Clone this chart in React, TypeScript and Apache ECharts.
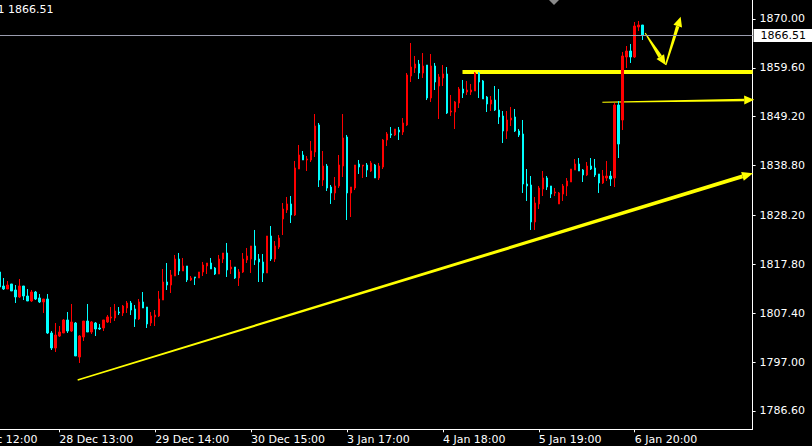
import React, { useEffect, useRef } from "react";
import * as echarts from "echarts";

// ---------- data ----------
// bar slots on the category axis (H1 bars), index 0 = first full candle
const firstSlot = -10;
const lastSlot = 187;
const firstCandle = -1;

// time labels, one every 24 bars starting at slot -10
const timeLabels = [
  "27 Dec 12:00",
  "28 Dec 13:00",
  "29 Dec 14:00",
  "30 Dec 15:00",
  "3 Jan 17:00",
  "4 Jan 18:00",
  "5 Jan 19:00",
  "6 Jan 20:00",
];
const labelStart = -10;
const labelStep = 24;

// price axis tick labels
const priceTicks = [1870.0, 1859.6, 1849.2, 1838.8, 1828.2, 1817.8, 1807.4, 1797.0, 1786.6];
const priceMin = 1782.7;
const priceMax = 1874.04;
const lastPrice = 1866.51;

// candles: [open, close, low, high]
const candles: number[][] = [
  [1816.17, 1812.98, 1812.77, 1816.17],
  [1813.19, 1812.55, 1812.34, 1814.89],
  [1812.55, 1813.4, 1812.55, 1814.25],
  [1813.62, 1812.13, 1812.13, 1813.62],
  [1812.34, 1810.85, 1809.57, 1813.4],
  [1810.85, 1813.19, 1810.64, 1814.68],
  [1813.19, 1811.06, 1810.21, 1813.19],
  [1811.06, 1810.0, 1810.0, 1812.55],
  [1810.0, 1811.91, 1809.79, 1812.34],
  [1811.91, 1810.42, 1810.21, 1812.13],
  [1810.64, 1809.79, 1809.57, 1811.49],
  [1809.79, 1810.42, 1807.45, 1810.42],
  [1810.42, 1803.19, 1802.98, 1811.49],
  [1803.19, 1800.0, 1799.57, 1803.61],
  [1800.0, 1802.76, 1799.15, 1805.32],
  [1802.55, 1803.4, 1802.34, 1804.68],
  [1803.19, 1805.96, 1803.19, 1806.17],
  [1805.96, 1803.61, 1803.19, 1807.66],
  [1803.61, 1805.53, 1803.4, 1809.36],
  [1805.32, 1798.3, 1798.3, 1805.53],
  [1798.08, 1802.55, 1796.81, 1802.76],
  [1802.34, 1805.74, 1801.49, 1805.74],
  [1805.74, 1803.4, 1803.4, 1809.36],
  [1803.4, 1805.53, 1802.98, 1805.74],
  [1805.32, 1804.04, 1802.55, 1805.53],
  [1804.25, 1804.04, 1803.83, 1805.11],
  [1804.25, 1805.96, 1803.61, 1805.96],
  [1805.53, 1806.6, 1805.32, 1807.02],
  [1806.38, 1806.6, 1805.32, 1808.72],
  [1806.38, 1807.87, 1805.74, 1809.36],
  [1807.66, 1807.45, 1807.02, 1808.72],
  [1807.45, 1808.93, 1806.81, 1809.15],
  [1808.51, 1809.57, 1807.45, 1810.0],
  [1809.57, 1808.08, 1807.02, 1810.0],
  [1808.3, 1806.17, 1804.47, 1809.15],
  [1806.17, 1809.79, 1805.96, 1810.42],
  [1809.79, 1808.51, 1808.51, 1811.91],
  [1808.72, 1805.11, 1804.25, 1808.72],
  [1805.32, 1806.81, 1804.68, 1807.66],
  [1806.6, 1807.02, 1804.68, 1808.08],
  [1806.81, 1810.42, 1806.6, 1812.13],
  [1810.21, 1814.04, 1810.21, 1816.81],
  [1814.04, 1813.4, 1812.34, 1818.08],
  [1813.4, 1815.53, 1811.7, 1816.6],
  [1815.32, 1818.93, 1815.32, 1819.79],
  [1818.93, 1816.38, 1815.53, 1820.21],
  [1816.38, 1817.45, 1816.38, 1819.15],
  [1817.45, 1814.47, 1814.04, 1817.45],
  [1814.47, 1814.89, 1814.25, 1815.32],
  [1815.11, 1814.89, 1813.4, 1815.11],
  [1814.89, 1816.17, 1814.89, 1816.17],
  [1816.17, 1817.66, 1815.32, 1818.3],
  [1817.45, 1818.08, 1815.74, 1818.08],
  [1818.08, 1816.81, 1816.81, 1819.15],
  [1817.02, 1815.74, 1815.53, 1817.23],
  [1815.74, 1818.93, 1815.74, 1819.79],
  [1818.93, 1820.21, 1818.08, 1820.21],
  [1820.21, 1816.6, 1815.11, 1822.34],
  [1816.81, 1817.23, 1815.74, 1818.72],
  [1817.23, 1814.89, 1814.68, 1817.23],
  [1814.89, 1816.17, 1813.19, 1816.81],
  [1816.17, 1818.93, 1815.96, 1820.21],
  [1818.72, 1819.57, 1818.08, 1821.28],
  [1818.93, 1821.7, 1815.96, 1821.7],
  [1821.7, 1818.72, 1817.66, 1825.11],
  [1818.93, 1818.3, 1814.04, 1820.0],
  [1818.3, 1815.96, 1814.04, 1820.0],
  [1815.96, 1823.83, 1815.96, 1823.83],
  [1823.83, 1818.93, 1818.51, 1825.95],
  [1818.93, 1821.7, 1818.3, 1822.76],
  [1821.49, 1823.4, 1821.06, 1824.04],
  [1827.45, 1829.57, 1824.04, 1830.85],
  [1829.36, 1830.64, 1828.72, 1832.13],
  [1830.64, 1828.3, 1826.59, 1832.34],
  [1828.3, 1838.3, 1828.08, 1839.79],
  [1838.08, 1841.06, 1838.08, 1843.19],
  [1841.06, 1840.0, 1840.0, 1841.91],
  [1840.0, 1840.21, 1837.66, 1840.85],
  [1840.0, 1841.91, 1839.57, 1844.04],
  [1841.7, 1847.23, 1840.64, 1849.78],
  [1847.45, 1835.74, 1834.25, 1847.87],
  [1835.74, 1838.72, 1834.47, 1841.91],
  [1838.72, 1834.04, 1833.4, 1839.15],
  [1834.25, 1832.98, 1830.64, 1834.68],
  [1832.98, 1834.47, 1831.49, 1836.38],
  [1834.47, 1838.93, 1834.04, 1841.06],
  [1838.72, 1844.68, 1836.38, 1849.78],
  [1844.89, 1832.98, 1827.23, 1845.32],
  [1832.98, 1834.25, 1827.87, 1834.25],
  [1834.04, 1838.93, 1833.61, 1838.93],
  [1839.15, 1838.51, 1837.02, 1840.0],
  [1838.72, 1838.93, 1836.17, 1838.93],
  [1838.93, 1837.87, 1836.38, 1839.36],
  [1837.66, 1839.36, 1837.45, 1839.79],
  [1838.93, 1836.17, 1836.17, 1839.15],
  [1836.17, 1838.72, 1835.74, 1839.36],
  [1838.51, 1844.25, 1838.08, 1844.47],
  [1844.25, 1845.53, 1842.98, 1845.95],
  [1845.53, 1845.32, 1844.68, 1847.02],
  [1845.32, 1846.59, 1845.1, 1846.59],
  [1846.38, 1845.95, 1844.25, 1847.02],
  [1845.95, 1847.87, 1845.32, 1848.93],
  [1847.45, 1858.08, 1847.23, 1858.51],
  [1857.87, 1859.78, 1856.59, 1864.89],
  [1859.57, 1860.42, 1858.51, 1862.13],
  [1860.42, 1858.51, 1857.23, 1861.28],
  [1858.51, 1860.0, 1857.45, 1862.76],
  [1860.21, 1853.19, 1852.76, 1860.21],
  [1853.19, 1860.0, 1852.34, 1862.55],
  [1860.0, 1856.59, 1854.89, 1860.64],
  [1855.74, 1857.66, 1848.72, 1858.3],
  [1857.45, 1858.3, 1855.74, 1860.21],
  [1858.3, 1850.0, 1849.78, 1859.78],
  [1850.21, 1850.42, 1849.36, 1853.83],
  [1850.21, 1852.34, 1846.59, 1852.55],
  [1852.13, 1855.1, 1851.06, 1855.53],
  [1855.1, 1854.25, 1853.19, 1857.02],
  [1854.47, 1854.89, 1853.83, 1856.81],
  [1854.47, 1854.89, 1853.83, 1856.17],
  [1854.68, 1858.51, 1854.68, 1858.72],
  [1858.51, 1856.59, 1853.19, 1858.72],
  [1856.81, 1852.98, 1852.98, 1857.02],
  [1853.4, 1851.91, 1850.21, 1853.61],
  [1851.91, 1852.76, 1850.42, 1853.61],
  [1852.76, 1850.64, 1850.42, 1855.74],
  [1850.64, 1849.15, 1847.66, 1855.1],
  [1849.36, 1846.17, 1843.61, 1850.42],
  [1846.17, 1848.51, 1844.47, 1850.42],
  [1848.51, 1848.93, 1847.23, 1851.28],
  [1849.15, 1846.17, 1845.95, 1850.85],
  [1846.17, 1845.32, 1844.89, 1846.59],
  [1845.53, 1834.89, 1832.98, 1848.51],
  [1834.89, 1834.47, 1831.28, 1838.08],
  [1834.68, 1826.81, 1825.11, 1836.59],
  [1826.81, 1830.85, 1825.11, 1832.13],
  [1830.64, 1834.04, 1829.57, 1834.47],
  [1833.83, 1836.17, 1832.34, 1837.66],
  [1836.17, 1834.25, 1833.61, 1836.59],
  [1834.47, 1832.76, 1831.91, 1834.47],
  [1832.98, 1833.19, 1832.34, 1834.04],
  [1830.64, 1832.98, 1830.64, 1833.19],
  [1832.76, 1834.47, 1831.28, 1834.89],
  [1834.47, 1835.53, 1832.34, 1836.17],
  [1835.32, 1838.08, 1835.32, 1838.08],
  [1837.87, 1839.15, 1837.87, 1840.21],
  [1839.15, 1837.66, 1837.66, 1840.42],
  [1837.87, 1836.81, 1835.32, 1838.08],
  [1836.81, 1838.72, 1836.59, 1839.57],
  [1838.72, 1838.08, 1837.87, 1840.42],
  [1838.3, 1836.81, 1836.38, 1840.21],
  [1837.02, 1835.11, 1832.98, 1837.02],
  [1835.11, 1836.59, 1834.89, 1837.87],
  [1836.17, 1836.59, 1835.53, 1839.79],
  [1836.59, 1835.96, 1834.47, 1837.66],
  [1836.17, 1851.7, 1834.25, 1852.13],
  [1851.7, 1843.4, 1840.42, 1852.55],
  [1848.51, 1862.13, 1846.38, 1862.98],
  [1861.91, 1863.19, 1859.57, 1864.25],
  [1863.19, 1861.91, 1860.64, 1864.68],
  [1861.91, 1868.51, 1861.7, 1869.36],
  [1868.3, 1868.72, 1867.44, 1869.57],
  [1868.72, 1866.51, 1865.53, 1868.72],
];

// chart drawings, in (bar index, price)
const trendLine = [[18.6, 1793.2], [187.6, 1837.2]];
const resistanceLevel = { fromBar: 114.9, price: 1858.72 };
const pointerArrow = [[149.9, 1852.3], [187.9, 1852.8]];
const zigzag = [[160.6, 1867.0], [165.75, 1860.2], [169.5, 1870.5]];

// ---------- styles ----------
const FONT = "DejaVu Sans";
const BULL = "#ff0000";
const BEAR = "#00ffff";
const YELLOW = "#ffff00";
const TEXT = "#ffffff";

const slots: number[] = [];
for (let i = firstSlot; i <= lastSlot; i++) slots.push(i);
const lastCandle = firstCandle + candles.length - 1;
const isLabelled = (bar: number) =>
  bar <= lastCandle && (bar - labelStart) % labelStep === 0 && (bar - labelStart) / labelStep < timeLabels.length;

function arrow(a: number[], b: number[], w0: number, w1: number, headLen: number, headHalf: number) {
  const dx = b[0] - a[0];
  const dy = b[1] - a[1];
  const len = Math.hypot(dx, dy) || 1;
  const ux = dx / len, uy = dy / len;
  const nx = -uy, ny = ux;
  const base = [b[0] - ux * headLen, b[1] - uy * headLen];
  return [
    {
      type: "polygon",
      z: 1,
      silent: true,
      shape: {
        points: [
          [a[0] + (nx * w0) / 2, a[1] + (ny * w0) / 2],
          [base[0] + (nx * w1) / 2, base[1] + (ny * w1) / 2],
          [base[0] - (nx * w1) / 2, base[1] - (ny * w1) / 2],
          [a[0] - (nx * w0) / 2, a[1] - (ny * w0) / 2],
        ],
      },
      style: { fill: YELLOW },
    },
    {
      type: "polygon",
      z: 1,
      silent: true,
      shape: {
        points: [
          [b[0], b[1]],
          [base[0] + nx * headHalf, base[1] + ny * headHalf],
          [base[0] - nx * headHalf, base[1] - ny * headHalf],
        ],
      },
      style: { fill: YELLOW },
    },
  ];
}

export default function App() {
  const ref = useRef<HTMLDivElement>(null);

  useEffect(() => {
    document.body.style.margin = "0";
    document.body.style.background = "#000";
    if (!ref.current) return;
    const chart = echarts.init(ref.current, undefined, { renderer: "svg" });

    const data = candles.map((c, j) => [firstCandle + j - firstSlot, c[0], c[1], c[2], c[3]]);

    const option: any = {
      animation: false,
      backgroundColor: "#000000",
      grid: {
        left: -38.6,
        right: 59.4,
        top: 0,
        bottom: 16.7,
        containLabel: false,
        outerBoundsMode: "none",
      },
      xAxis: {
        type: "category",
        data: slots.map((s) => String(s)),
        boundaryGap: true,
        axisLine: { show: true, lineStyle: { color: TEXT, width: 1 } },
        axisTick: {
          show: true,
          alignWithLabel: true,
          length: 3,
          interval: (_idx: number, value: string) => isLabelled(Number(value)),
          lineStyle: { color: TEXT },
        },
        axisLabel: {
          show: true,
          interval: (_idx: number, value: string) => isLabelled(Number(value)),
          formatter: (value: string) => {
            const b = Number(value);
            return isLabelled(b) ? timeLabels[(b - labelStart) / labelStep] : "";
          },
          align: "left",
          margin: 5,
          color: TEXT,
          fontFamily: FONT,
          fontSize: 11,
        },
        splitLine: { show: false },
      },
      yAxis: {
        type: "value",
        position: "right",
        min: priceMin,
        max: priceMax,
        scale: true,
        axisLine: { show: true, lineStyle: { color: TEXT, width: 1 } },
        axisTick: { show: true, length: 3, customValues: priceTicks, lineStyle: { color: TEXT } },
        axisLabel: {
          show: true,
          customValues: priceTicks,
          formatter: (v: number) => v.toFixed(2),
          margin: 7,
          color: TEXT,
          fontFamily: FONT,
          fontSize: 11,
        },
        splitLine: { show: false },
      },
      series: [
        {
          type: "candlestick",
          dimensions: ["bar", "open", "close", "lowest", "highest"],
          encode: { x: 0, y: [1, 2, 3, 4] },
          data,
          barWidth: 2,
          clip: false,
          itemStyle: {
            color: BULL,
            color0: BEAR,
            borderColor: BULL,
            borderColor0: BEAR,
            borderColorDoji: BULL,
            borderWidth: 1,
          },
          markLine: {
            silent: true,
            symbol: ["none", "none"],
            animation: false,
            data: [{ yAxis: lastPrice }],
            lineStyle: { color: "#9a9cae", width: 1, type: "solid" },
            label: {
              show: true,
              position: "end",
              formatter: lastPrice.toFixed(2),
              backgroundColor: "#ffffff",
              color: "#000000",
              fontFamily: FONT,
              fontSize: 11,
              lineHeight: 12,
              padding: [1, 6, 0, 7],
              distance: 1,
            },
          },
        },
      ],
    };
    chart.setOption(option);

    const x0 = chart.convertToPixel({ xAxisIndex: 0 }, 0 - firstSlot) as number;
    const x100 = chart.convertToPixel({ xAxisIndex: 0 }, 100 - firstSlot) as number;
    const xAt = (bar: number) => x0 + ((x100 - x0) * bar) / 100;
    const yAt = (p: number) => chart.convertToPixel({ yAxisIndex: 0 }, p) as number;
    const pt = (d: number[]) => [xAt(d[0]), yAt(d[1])];

    const gridRight = xAt(lastSlot + 0.5);
    const ry = yAt(resistanceLevel.price);

    const graphics: any[] = [
      ...arrow(pt(trendLine[0]), pt(trendLine[1]), 1.5, 4, 11, 4.5),
      {
        type: "rect",
        z: 1,
        silent: true,
        shape: { x: xAt(resistanceLevel.fromBar), y: ry - 2, width: gridRight - xAt(resistanceLevel.fromBar), height: 4 },
        style: { fill: YELLOW },
      },
      ...arrow(pt(pointerArrow[0]), pt(pointerArrow[1]), 1, 2.5, 10, 4.5),
      ...arrow(pt(zigzag[0]), pt(zigzag[1]), 1, 4, 10, 4.5),
      ...arrow(pt(zigzag[1]), pt(zigzag[2]), 1.5, 3.5, 10, 4.5),
      {
        type: "text",
        z: 20,
        silent: true,
        x: -2.5,
        y: 9.5,
        style: { text: "1 " + lastPrice.toFixed(2), fill: TEXT, font: `11px "${FONT}"`, verticalAlign: "middle", align: "left" },
      },
      {
        type: "polygon",
        z: 20,
        silent: true,
        shape: { points: [[549, 0], [559, 0], [554, 5]] },
        style: { fill: "#8a8a8a" },
      },
    ];
    chart.setOption({ graphic: graphics });

    return () => chart.dispose();
  }, []);

  return (
    <div
      ref={ref}
      style={{ position: "fixed", left: 0, top: 0, width: 812, height: 446, background: "#000" }}
    />
  );
}
